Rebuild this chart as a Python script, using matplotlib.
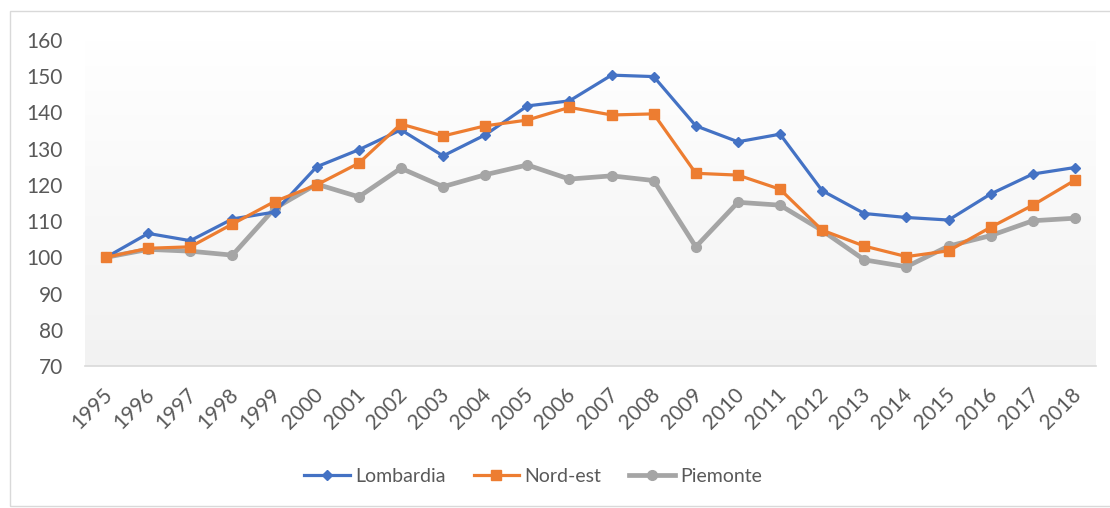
import matplotlib
matplotlib.use("Agg")
import matplotlib.pyplot as plt
import matplotlib.transforms as mtransforms
import numpy as np
from matplotlib.patches import Rectangle

years = [str(y) for y in range(1995, 2019)]
lombardia = [100, 106.6, 104.6, 110.6, 112.5, 125, 129.7, 135.2, 128, 133.8, 141.8, 143.2,
             150.3, 149.9, 136.3, 131.9, 134, 118.4, 112.1, 111, 110.3, 117.5, 123, 124.8]
nord_est = [100, 102.5, 102.9, 109.2, 115.4, 120, 126, 136.8, 133.5, 136.3, 137.9, 141.4,
            139.3, 139.6, 123.2, 122.7, 118.8, 107.5, 103.1, 100.2, 101.8, 108.3, 114.4, 121.3]
piemonte = [100, 102.2, 101.7, 100.6, 113.5, 120.2, 116.7, 124.6, 119.5, 122.8, 125.5, 121.6,
            122.5, 121.2, 102.9, 115.2, 114.4, 107.4, 99.3, 97.4, 103.1, 106, 110.1, 110.8]
yticks = [70, 80, 90, 100, 110, 120, 130, 140, 150, 160]

plt.rcParams['font.family'] = ['Lato', 'DejaVu Sans']
txt = '#595959'

W, H = 1110, 508
fig = plt.figure(figsize=(W / 100, H / 100), dpi=100)
fig.patches.append(Rectangle((10 / W, 2 / H), 1.2, 1 - 13 / H, transform=fig.transFigure,
                             fill=False, edgecolor='#d9d9d9', linewidth=1))

ax = fig.add_axes([85 / W, 1 - 366 / H, (1096 - 85) / W, (366 - 40) / H])
x = np.arange(len(years))
ax.set_xlim(-0.5, len(years) - 0.5)
ax.set_ylim(70, 160)

grad = np.linspace(1.0, 0.949, 256).reshape(-1, 1)
ax.imshow(np.dstack([grad, grad, grad]), extent=[-0.5, len(years) - 0.5, 70, 160],
          aspect='auto', zorder=0, origin='upper')

ax.plot(x, lombardia, color='#4472C4', lw=2.3, marker='D', ms=5.5, label='Lombardia', zorder=3)
ax.plot(x, nord_est, color='#ED7D31', lw=2.3, marker='s', ms=7, label='Nord-est', zorder=3)
ax.plot(x, piemonte, color='#A5A5A5', lw=3.4, marker='o', ms=7, label='Piemonte', zorder=2)

ax.set_xticks(x)
ax.set_xticklabels(years, rotation=45, ha='right', rotation_mode='anchor')
ax.set_yticks(yticks)
ax.tick_params(axis='y', length=0, labelsize=15, colors=txt, pad=16)
ax.tick_params(axis='x', length=0, labelsize=15, colors=txt, pad=13)
shift = mtransforms.ScaledTranslation(-4 / 100, 0, fig.dpi_scale_trans)
for lbl in ax.get_xticklabels():
    lbl.set_transform(lbl.get_transform() + shift)
for s in ['top', 'right', 'left']:
    ax.spines[s].set_visible(False)
ax.spines['bottom'].set_color('#d9d9d9')
ax.spines['bottom'].set_linewidth(1.2)

leg = fig.legend(loc='center', bbox_to_anchor=(533 / W, 1 - 476 / H), ncol=3, frameon=False,
                 fontsize=14, handlelength=2.35, columnspacing=1.45, handletextpad=0.26)
for t in leg.get_texts():
    t.set_color(txt)

fig.savefig('out.png', dpi=100)
